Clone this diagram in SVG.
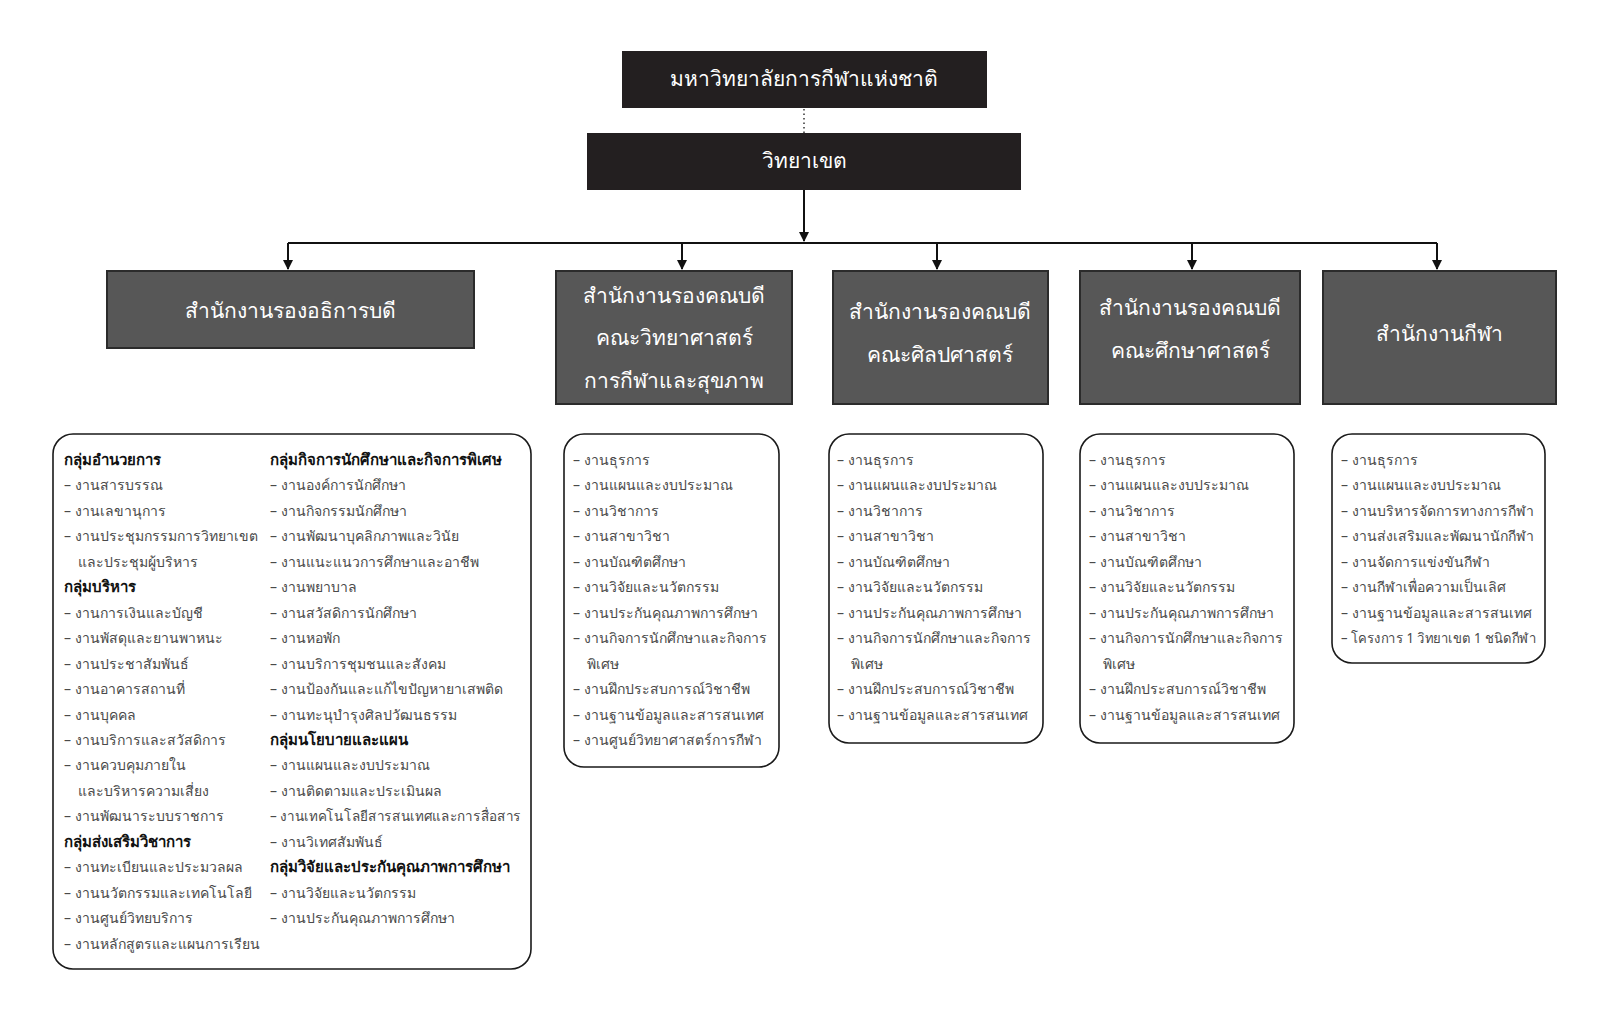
<svg xmlns="http://www.w3.org/2000/svg" width="1600" height="1024" viewBox="0 0 1600 1024">
<style>
.top{fill:#231f20}
.hd{fill:#575757;stroke:#2b2b2b;stroke-width:2}
.det{fill:#fff;stroke:#1a1a1a;stroke-width:1.6}
.tt{font-family:"Noto Sans","Liberation Sans",sans-serif;font-size:21px;fill:#fff;text-anchor:middle}
.ht{font-family:"Noto Sans","Liberation Sans",sans-serif;font-size:21px;fill:#fff;text-anchor:middle}
.dt{font-family:"Noto Sans","Liberation Sans",sans-serif;font-size:14px;fill:#4a4a4a}
.b{font-weight:bold;fill:#111;font-size:15px}
.ln{stroke:#111;stroke-width:2;fill:none}
</style>
<defs>
<marker id="ah" markerWidth="10" markerHeight="12" refX="9" refY="5" orient="auto" markerUnits="userSpaceOnUse" viewBox="0 0 10 10">
<path d="M0,0 L10,5 L0,10 Z" fill="#111"/>
</marker>
</defs>
<g id="connectors">
<line x1="804" y1="109" x2="804" y2="133" stroke="#333" stroke-width="1.5" stroke-dasharray="1.5,3"/>
<line class="ln" x1="804" y1="190" x2="804" y2="241" marker-end="url(#ah)"/>
<polyline class="ln" points="288,243 1437,243"/>
<line class="ln" x1="288" y1="243" x2="288" y2="269" marker-end="url(#ah)"/>
<line class="ln" x1="682" y1="243" x2="682" y2="269" marker-end="url(#ah)"/>
<line class="ln" x1="937" y1="243" x2="937" y2="269" marker-end="url(#ah)"/>
<line class="ln" x1="1192" y1="243" x2="1192" y2="269" marker-end="url(#ah)"/>
<line class="ln" x1="1437" y1="243" x2="1437" y2="269" marker-end="url(#ah)"/>
</g>
<g id="university">
<rect class="top" x="622" y="51" width="365" height="57"/>
<text class="tt" x="804" y="86">มหาวิทยาลัยการกีฬาแห่งชาติ</text>
</g>
<g id="campus">
<rect class="top" x="587" y="133" width="434" height="57"/>
<text class="tt" x="804" y="168">วิทยาเขต</text>
</g>
<g id="office-vp">
<rect class="hd" x="107" y="271" width="367" height="77"/>
<text class="ht" x="290" y="318">สำนักงานรองอธิการบดี</text>
</g>
<g id="office-sci">
<rect class="hd" x="556" y="271" width="236" height="133"/>
<text class="ht" x="674" y="303">สำนักงานรองคณบดี</text>
<text class="ht" x="674" y="345">คณะวิทยาศาสตร์</text>
<text class="ht" x="674" y="388">การกีฬาและสุขภาพ</text>
</g>
<g id="office-arts">
<rect class="hd" x="833" y="271" width="215" height="133"/>
<text class="ht" x="940" y="319">สำนักงานรองคณบดี</text>
<text class="ht" x="940" y="362">คณะศิลปศาสตร์</text>
</g>
<g id="office-edu">
<rect class="hd" x="1080" y="271" width="220" height="133"/>
<text class="ht" x="1190" y="315">สำนักงานรองคณบดี</text>
<text class="ht" x="1190" y="358">คณะศึกษาศาสตร์</text>
</g>
<g id="office-sport">
<rect class="hd" x="1323" y="271" width="233" height="133"/>
<text class="ht" x="1439" y="341">สำนักงานกีฬา</text>
</g>
<g id="detail-vp">
<rect class="det" x="53" y="434" width="478" height="535" rx="20"/>
<text class="dt" x="64" y="465">
<tspan class="b" x="64" dy="0">กลุ่มอำนวยการ</tspan>
<tspan x="64" dy="25.45">– งานสารบรรณ</tspan>
<tspan x="64" dy="25.45">– งานเลขานุการ</tspan>
<tspan x="64" dy="25.45">– งานประชุมกรรมการวิทยาเขต</tspan>
<tspan x="78" dy="25.45">และประชุมผู้บริหาร</tspan>
<tspan class="b" x="64" dy="25.45">กลุ่มบริหาร</tspan>
<tspan x="64" dy="25.45">– งานการเงินและบัญชี</tspan>
<tspan x="64" dy="25.45">– งานพัสดุและยานพาหนะ</tspan>
<tspan x="64" dy="25.45">– งานประชาสัมพันธ์</tspan>
<tspan x="64" dy="25.45">– งานอาคารสถานที่</tspan>
<tspan x="64" dy="25.45">– งานบุคคล</tspan>
<tspan x="64" dy="25.45">– งานบริการและสวัสดิการ</tspan>
<tspan x="64" dy="25.45">– งานควบคุมภายใน</tspan>
<tspan x="78" dy="25.45">และบริหารความเสี่ยง</tspan>
<tspan x="64" dy="25.45">– งานพัฒนาระบบราชการ</tspan>
<tspan class="b" x="64" dy="25.45">กลุ่มส่งเสริมวิชาการ</tspan>
<tspan x="64" dy="25.45">– งานทะเบียนและประมวลผล</tspan>
<tspan x="64" dy="25.45">– งานนวัตกรรมและเทคโนโลยี</tspan>
<tspan x="64" dy="25.45">– งานศูนย์วิทยบริการ</tspan>
<tspan x="64" dy="25.45">– งานหลักสูตรและแผนการเรียน</tspan>
</text>
<text class="dt" x="270" y="465">
<tspan class="b" x="270" dy="0">กลุ่มกิจการนักศึกษาและกิจการพิเศษ</tspan>
<tspan x="270" dy="25.45">– งานองค์การนักศึกษา</tspan>
<tspan x="270" dy="25.45">– งานกิจกรรมนักศึกษา</tspan>
<tspan x="270" dy="25.45">– งานพัฒนาบุคลิกภาพและวินัย</tspan>
<tspan x="270" dy="25.45">– งานแนะแนวการศึกษาและอาชีพ</tspan>
<tspan x="270" dy="25.45">– งานพยาบาล</tspan>
<tspan x="270" dy="25.45">– งานสวัสดิการนักศึกษา</tspan>
<tspan x="270" dy="25.45">– งานหอพัก</tspan>
<tspan x="270" dy="25.45">– งานบริการชุมชนและสังคม</tspan>
<tspan x="270" dy="25.45">– งานป้องกันและแก้ไขปัญหายาเสพติด</tspan>
<tspan x="270" dy="25.45">– งานทะนุบำรุงศิลปวัฒนธรรม</tspan>
<tspan class="b" x="270" dy="25.45">กลุ่มนโยบายและแผน</tspan>
<tspan x="270" dy="25.45">– งานแผนและงบประมาณ</tspan>
<tspan x="270" dy="25.45">– งานติดตามและประเมินผล</tspan>
</text>
<text class="dt" x="270" y="821.3" textLength="251" lengthAdjust="spacingAndGlyphs">– งานเทคโนโลยีสารสนเทศและการสื่อสาร</text>
<text class="dt" x="270" y="846.75">
<tspan x="270" dy="0">– งานวิเทศสัมพันธ์</tspan>
<tspan class="b" x="270" dy="25.45">กลุ่มวิจัยและประกันคุณภาพการศึกษา</tspan>
<tspan x="270" dy="25.45">– งานวิจัยและนวัตกรรม</tspan>
<tspan x="270" dy="25.45">– งานประกันคุณภาพการศึกษา</tspan>
</text>
</g>
<g id="detail-sci">
<rect class="det" x="564" y="434" width="215" height="333" rx="20"/>
<text class="dt" x="573" y="465">
<tspan x="573" dy="0">– งานธุรการ</tspan>
<tspan x="573" dy="25.45">– งานแผนและงบประมาณ</tspan>
<tspan x="573" dy="25.45">– งานวิชาการ</tspan>
<tspan x="573" dy="25.45">– งานสาขาวิชา</tspan>
<tspan x="573" dy="25.45">– งานบัณฑิตศึกษา</tspan>
<tspan x="573" dy="25.45">– งานวิจัยและนวัตกรรม</tspan>
<tspan x="573" dy="25.45">– งานประกันคุณภาพการศึกษา</tspan>
<tspan x="573" dy="25.45">– งานกิจการนักศึกษาและกิจการ</tspan>
<tspan x="587" dy="25.45">พิเศษ</tspan>
<tspan x="573" dy="25.45">– งานฝึกประสบการณ์วิชาชีพ</tspan>
<tspan x="573" dy="25.45">– งานฐานข้อมูลและสารสนเทศ</tspan>
<tspan x="573" dy="25.45">– งานศูนย์วิทยาศาสตร์การกีฬา</tspan>
</text>
</g>
<g id="detail-arts">
<rect class="det" x="829" y="434" width="214" height="309" rx="20"/>
<text class="dt" x="837" y="465">
<tspan x="837" dy="0">– งานธุรการ</tspan>
<tspan x="837" dy="25.45">– งานแผนและงบประมาณ</tspan>
<tspan x="837" dy="25.45">– งานวิชาการ</tspan>
<tspan x="837" dy="25.45">– งานสาขาวิชา</tspan>
<tspan x="837" dy="25.45">– งานบัณฑิตศึกษา</tspan>
<tspan x="837" dy="25.45">– งานวิจัยและนวัตกรรม</tspan>
<tspan x="837" dy="25.45">– งานประกันคุณภาพการศึกษา</tspan>
<tspan x="837" dy="25.45">– งานกิจการนักศึกษาและกิจการ</tspan>
<tspan x="851" dy="25.45">พิเศษ</tspan>
<tspan x="837" dy="25.45">– งานฝึกประสบการณ์วิชาชีพ</tspan>
<tspan x="837" dy="25.45">– งานฐานข้อมูลและสารสนเทศ</tspan>
</text>
</g>
<g id="detail-edu">
<rect class="det" x="1080" y="434" width="214" height="309" rx="20"/>
<text class="dt" x="1089" y="465">
<tspan x="1089" dy="0">– งานธุรการ</tspan>
<tspan x="1089" dy="25.45">– งานแผนและงบประมาณ</tspan>
<tspan x="1089" dy="25.45">– งานวิชาการ</tspan>
<tspan x="1089" dy="25.45">– งานสาขาวิชา</tspan>
<tspan x="1089" dy="25.45">– งานบัณฑิตศึกษา</tspan>
<tspan x="1089" dy="25.45">– งานวิจัยและนวัตกรรม</tspan>
<tspan x="1089" dy="25.45">– งานประกันคุณภาพการศึกษา</tspan>
<tspan x="1089" dy="25.45">– งานกิจการนักศึกษาและกิจการ</tspan>
<tspan x="1103" dy="25.45">พิเศษ</tspan>
<tspan x="1089" dy="25.45">– งานฝึกประสบการณ์วิชาชีพ</tspan>
<tspan x="1089" dy="25.45">– งานฐานข้อมูลและสารสนเทศ</tspan>
</text>
</g>
<g id="detail-sport">
<rect class="det" x="1332" y="434" width="213" height="229" rx="20"/>
<text class="dt" x="1341" y="465">
<tspan x="1341" dy="0">– งานธุรการ</tspan>
<tspan x="1341" dy="25.45">– งานแผนและงบประมาณ</tspan>
<tspan x="1341" dy="25.45">– งานบริหารจัดการทางการกีฬา</tspan>
<tspan x="1341" dy="25.45">– งานส่งเสริมและพัฒนานักกีฬา</tspan>
<tspan x="1341" dy="25.45">– งานจัดการแข่งขันกีฬา</tspan>
<tspan x="1341" dy="25.45">– งานกีฬาเพื่อความเป็นเลิศ</tspan>
<tspan x="1341" dy="25.45">– งานฐานข้อมูลและสารสนเทศ</tspan>
</text>
<text class="dt" x="1341" y="643.15" textLength="195" lengthAdjust="spacingAndGlyphs">– โครงการ 1 วิทยาเขต 1 ชนิดกีฬา</text>
</g>
</svg>
